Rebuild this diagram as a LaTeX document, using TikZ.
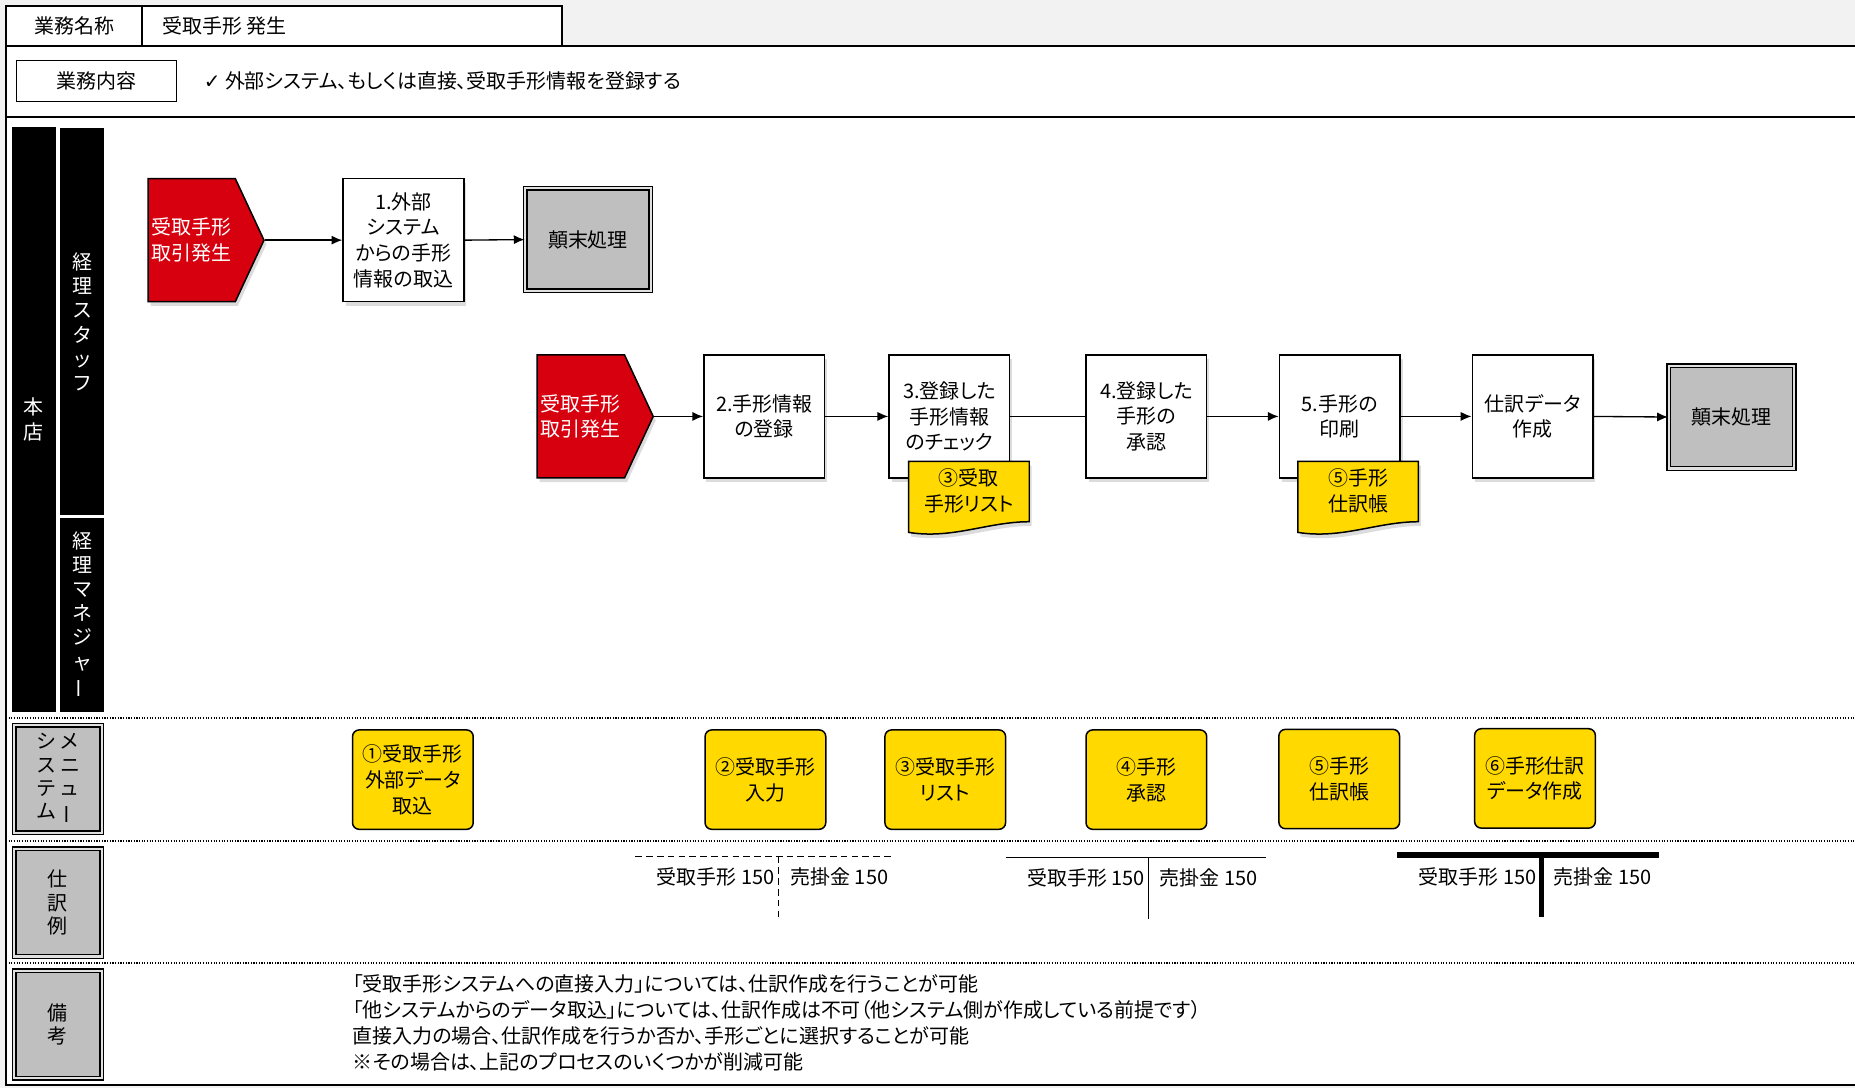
\documentclass[tikz,border=0pt]{standalone}
\usepackage{fontspec}
\usepackage{graphicx}
\setmainfont{Noto Sans CJK JP}[RawFeature=+palt]
\newfontfamily\symfont{DejaVu Sans}
\usetikzlibrary{arrows.meta,shapes.symbols,shadows}

\definecolor{bggray}{RGB}{242,242,242}
\definecolor{hdgray}{RGB}{191,191,191}
\definecolor{trred}{RGB}{215,0,15}
\definecolor{mnyellow}{RGB}{255,217,0}

\newcommand{\chouon}{\rotatebox[origin=c]{90}{ー}}

\tikzset{
  txt/.style={font=\fontsize{12}{15.5}\selectfont,align=center,inner sep=0pt},
  shade2/.style={drop shadow={shadow xshift=1.5pt,shadow yshift=-2.5pt,opacity=0.3,fill=black!45}},
  proc/.style={txt,draw,line width=0.9pt,fill=white,minimum width=2.55cm,minimum height=2.6cm,shade2},
  trigger/.style={txt,shape=signal,signal to=east,signal pointer angle=130,draw,line width=0.9pt,fill=trred,text=white,minimum width=2.45cm,minimum height=2.6cm,shade2},
  endbox/.style={txt,draw,line width=0.8pt,double=black!12,double distance=1.4pt,fill=hdgray,minimum width=2.65cm,minimum height=2.17cm},
  menu/.style={txt,draw,line width=0.9pt,fill=mnyellow,rounded corners=4pt,minimum width=2.55cm,minimum height=2.1cm},
  lane/.style={txt,fill=black,text=white,font=\fontsize{12}{14.5}\selectfont,minimum width=0.925cm},
  hdbox/.style={txt,draw,line width=0.8pt,double=black!12,double distance=1.4pt,fill=hdgray,minimum width=1.85cm,minimum height=2.27cm,font=\fontsize{12}{14}\selectfont},
  arr/.style={line width=0.8pt,-{Latex[length=6.5pt,width=5.5pt]}},
  dotsep/.style={line width=0.8pt,dash pattern=on 0.7pt off 0.9pt},
  docu/.style={fill=mnyellow,draw=black,line width=0.9pt,shade2},
  framerule/.style={line width=1.2pt}
}

\begin{document}
\begin{tikzpicture}[x=0.025cm,y=-0.025cm]
\useasboundingbox (0,0) rectangle (1568,920);
\fill[bggray] (0,0) rectangle (1568,920);
% title row
\draw[line width=0.8pt,fill=white] (5,5) rectangle (475,39);
\draw[line width=0.8pt] (120,5) -- (120,39);
\node[txt] (name) at (63,22) {業務名称};
\node[txt,anchor=west] (title) at (137,22) {受取手形 発生};
% main frame
\fill[white] (5,39) rectangle (1568,917);
\draw[framerule] (1568,39) -- (5,39) -- (5,917) -- (1568,917);
\draw[framerule] (5,99) -- (1568,99);
\node[txt,draw,line width=0.8pt,minimum width=3.375cm,minimum height=0.875cm] (naiyo) at (81.5,68.5) {業務内容};
\node[txt,anchor=west] (desc) at (172,68) {{\symfont ✓} 外部システム、もしくは直接、受取手形情報を登録する};
% lanes
\node[lane,minimum height=12.375cm] (honten) at (28.5,354.5) {本\\店};
\node[lane,minimum height=8.175cm] (staff) at (69.5,272) {経\\理\\ス\\タ\\ッ\\フ};
\node[lane,minimum height=4.1cm] (mgr) at (69.5,520) {経\\理\\マ\\ネ\\ジ\\ャ\\\chouon};
\draw[dotsep] (5,607) -- (1568,607);
\draw[dotsep] (5,711) -- (1568,711);
\draw[dotsep] (5,814) -- (1568,814);
\node[hdbox] (sysmenu) at (49,658.5) {\begin{tabular}{@{}c@{\hspace{3pt}}c@{}}シ&メ\\ス&ニ\\テ&ュ\\ム&\chouon\end{tabular}};
\node[hdbox] (shiwake) at (49,763) {仕\\訳\\例};
\node[hdbox] (biko) at (49,866) {備\\考};
% flow 1
\node[trigger] (st1) at (162,203) {受取手形\\取引発生};
\node[proc] (p1) at (341,203) {1.外部\\システム\\からの手形\\情報の取込};
\node[endbox] (en1) at (497,202.5) {顛末処理};
\draw[arr] (st1.east) -- (p1.west);
\draw[arr] (p1.east) -- (en1.west);
% flow 2
\node[trigger] (st2) at (491,352) {受取手形\\取引発生};
\node[proc] (p2) at (646,352) {2.手形情報\\の登録};
\node[proc] (p3) at (802.5,352) {3.登録した\\手形情報\\のチェック};
\node[proc] (p4) at (969,352) {4.登録した\\手形の\\承認};
\node[proc] (p5) at (1132.5,352) {5.手形の\\印刷};
\node[proc] (p6) at (1295.5,352) {仕訳データ\\作成};
\node[endbox] (en2) at (1463.5,352.5) {顛末処理};
\draw[arr] (st2.east) -- (p2.west);
\draw[arr] (p2.east) -- (p3.west);
\draw[line width=0.8pt] (p3.east) -- (p4.west);
\draw[arr] (p4.east) -- (p5.west);
\draw[arr] (p5.east) -- (p6.west);
\draw[arr] (p6.east) -- (en2.west);
% documents
\begin{scope}[shift={(768,390)}]
\path[docu] (0,0) -- (102,0) -- (102,51) .. controls (67,51) and (37,66) .. (0,60) -- cycle;
\end{scope}
\node[txt] (doc3) at (819,415) {③受取\\手形リスト};
\begin{scope}[shift={(1097,390)}]
\path[docu] (0,0) -- (102,0) -- (102,51) .. controls (67,51) and (37,66) .. (0,60) -- cycle;
\end{scope}
\node[txt] (doc5) at (1148,415) {⑤手形\\仕訳帳};
% system menu
\node[menu] (m1) at (349,659) {①受取手形\\外部データ\\取込};
\node[menu] (m2) at (647,659) {②受取手形\\入力};
\node[menu] (m3) at (799,659) {③受取手形\\リスト};
\node[menu] (m4) at (969,659) {④手形\\承認};
\node[menu] (m5) at (1132,658.5) {⑤手形\\仕訳帳};
\node[menu] (m6) at (1297.5,658) {⑥手形仕訳\\データ作成};
% journal examples
\node[txt,anchor=east] (dr1) at (655,741) {受取手形 150};
\node[txt,anchor=west] (cr1) at (668,741) {売掛金 150};
\coordinate (t1l) at (537,724); \coordinate (t1r) at (756,724);
\coordinate (t1t) at (658,724); \coordinate (t1b) at (658,776);
\draw[line width=0.8pt,dash pattern=on 4pt off 2.5pt] (t1l) -- (t1r) (t1t) -- (t1b);
\node[txt,anchor=east] (dr2) at (968,742) {受取手形 150};
\node[txt,anchor=west] (cr2) at (980,742) {売掛金 150};
\coordinate (t2l) at (850,725); \coordinate (t2r) at (1070,725);
\coordinate (t2t) at (971,725); \coordinate (t2b) at (971,777);
\draw[line width=0.8pt] (t2l) -- (t2r) (t2t) -- (t2b);
\node[txt,anchor=east] (dr3) at (1299,741) {受取手形 150};
\node[txt,anchor=west] (cr3) at (1313,741) {売掛金 150};
\coordinate (t3l) at (1181,723); \coordinate (t3r) at (1402,723);
\coordinate (t3t) at (1303,723); \coordinate (t3b) at (1303,775);
\draw[line width=3.5pt] (t3l) -- (t3r) (t3t) -- (t3b);
% remarks
\node[txt,anchor=west,align=left] (note) at (298,864.5) {「受取手形システムへの直接入力」については、仕訳作成を行うことが可能\\「他システムからのデータ取込」については、仕訳作成は不可（他システム側が作成している前提です）\\直接入力の場合、仕訳作成を行うか否か、手形ごとに選択することが可能\\※その場合は、上記のプロセスのいくつかが削減可能};
\end{tikzpicture}
\end{document}
